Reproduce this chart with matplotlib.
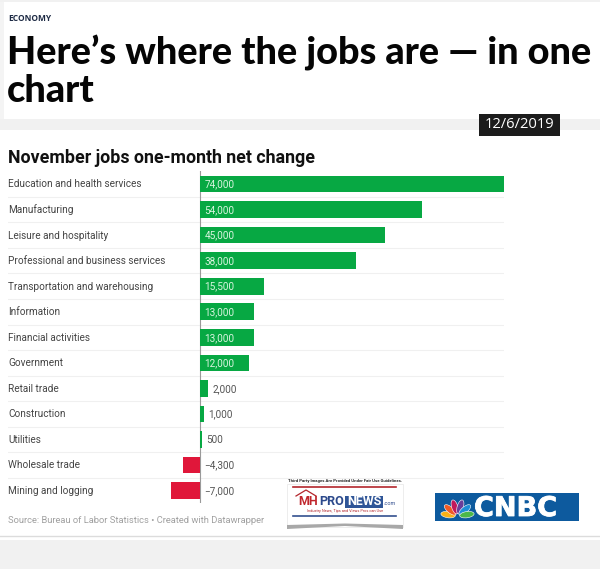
import math
import matplotlib
matplotlib.use("Agg")
import matplotlib.pyplot as plt
import matplotlib.patheffects as pe
from matplotlib.patches import Rectangle, Ellipse, Polygon

categories = ["Education and health services", "Manufacturing", "Leisure and hospitality",
              "Professional and business services", "Transportation and warehousing",
              "Information", "Financial activities", "Government", "Retail trade",
              "Construction", "Utilities", "Wholesale trade", "Mining and logging"]
values = [74000, 54000, 45000, 38000, 15500, 13000, 13000, 12000, 2000, 1000, 500, -4300, -7000]
value_labels = ["74,000", "54,000", "45,000", "38,000", "15,500", "13,000", "13,000", "12,000",
                "2,000", "1,000", "500", "\u22124,300", "\u22127,000"]

GREEN = "#07a843"; RED = "#e0173a"; W, H = 600, 569
fig = plt.figure(figsize=(W/100, H/100), dpi=100, facecolor="white")

# page furniture, in pixel coordinates
bg = fig.add_axes([0, 0, 1, 1], zorder=0)
bg.set_xlim(0, W); bg.set_ylim(H, 0); bg.axis("off")
bg.add_patch(Rectangle((0, 119), W, 11, fc="#f1f1f1", ec="none"))
bg.add_patch(Rectangle((0, 0), 4, 119, fc="#f4f4f4", ec="none"))
bg.add_patch(Rectangle((0, 0), W, 1.5, fc="#f1f1f1", ec="none"))
bg.add_patch(Rectangle((0, 540), W, 29, fc="#f1f1f1", ec="none"))
bg.plot([0, W], [536, 536], color="#dcdcdc", lw=1)
bg.text(8, 18.5, "ECONOMY", fontsize=6, family="Open Sans", weight="bold", color="#1d2a44", va="center", ha="left")
bg.text(7, 64, "Here\u2019s where the jobs are \u2014 in one", fontsize=27.3, family="Lato", weight="black", color="#050505", va="baseline")
bg.text(7, 101.5, "chart", fontsize=27.3, family="Lato", weight="black", color="#050505", va="baseline")
bg.add_patch(Rectangle((479, 114), 81, 22, fc="#1c1c1c", ec="none"))
bg.text(519, 124.5, "12/6/2019", fontsize=10.6, family="Open Sans", color="white", ha="center", va="center")
bg.text(8, 158, "November jobs one-month net change", fontsize=12.8, family="Roboto", weight="bold", color="#111111", va="center")
bg.text(8, 520.5, "Source: Bureau of Labor Statistics \u2022 Created with Datawrapper", fontsize=6.75, family="Roboto", color="#a0a0a0", va="center")

# chart
zero_px = 200.2
x_per_px = 74000 / (504 - zero_px)
left, right = 8, 504
row0, step = 184, 25.55
top, bottom = row0 - step/2, row0 + 12.5*step
ax = fig.add_axes([left/W, 1 - bottom/H, (right-left)/W, (bottom-top)/H], zorder=1)
ax.patch.set_alpha(0)
ax.set_xlim((left-zero_px)*x_per_px, (right-zero_px)*x_per_px)
ax.set_ylim(len(values)-0.5, -0.5)
ax.axis("off")
for i, (c, v, lab) in enumerate(zip(categories, values, value_labels)):
    ax.barh(i, v, height=0.65, color=GREEN if v >= 0 else RED, zorder=3)
    ax.annotate(c, (0, i), xycoords=("axes fraction", "data"), xytext=(0, -0.3), textcoords="offset points",
                fontsize=7.2, family="Roboto", color="#444444", va="center", ha="left")
    if v >= 10000:
        ax.annotate(lab, (0, i), xytext=(3, -0.3), textcoords="offset points", fontsize=7.2, family="Roboto", color="#d8f5df", va="center", zorder=4)
    else:
        ax.annotate(lab, (max(v, 0), i), xytext=(3, -0.3), textcoords="offset points", fontsize=7.2, family="Roboto", color="#555555", va="center", zorder=4)
    if i < len(values)-1:
        ax.axhline(i+0.5, color="#f0f0f0", lw=0.8, zorder=1)
ax.axvline(0, color="#9a9a9a", lw=0.8, zorder=2)

# MHProNews logo
bg.text(345, 481, "Third Party Images Are Provided Under Fair Use Guidelines.", fontsize=3.1, weight="bold", family="Roboto", ha="center", va="center", color="#222222")
bg.add_patch(Polygon([(287, 484), (403, 484), (403, 527), (287, 527)], fc="white", ec="#e6e6e6", lw=0.5))
bg.add_patch(Polygon([(287, 525), (345, 523.5), (403, 525), (403, 529), (345, 526), (287, 529)], fc="#a8a8a8", ec="none", zorder=3))
bg.plot([293, 396], [487, 487], color="#b3262c", lw=1.2)
bg.plot([293, 396], [516, 516], color="#34508f", lw=1.2)
bg.plot([296, 306, 316], [496, 490, 496], color="#b3262c", lw=0.9)
bg.text(298, 501.5, "MH", fontsize=9, weight="bold", family="Roboto", color="#c0272d", va="center")
bg.text(319, 501.5, "PRO", fontsize=9, weight="bold", family="Roboto", color="#2d4a8c", va="center")
bg.add_patch(Rectangle((345, 495.5), 38, 12, fc="#2f5597", ec="none"))
bg.text(364, 501.5, "NEWS", fontsize=9, weight="bold", family="Roboto", color="white", va="center", ha="center")
bg.text(384, 503, ".com", fontsize=4, family="Roboto", color="#2d4a8c", va="center")
bg.text(345, 511, "Industry News, Tips and Views Pros can Use", fontsize=2.8, family="Roboto", color="#b3262c", ha="center", va="center")

# CNBC logo
bg.add_patch(Rectangle((435, 493), 144, 28, fc="#0d5a9e", ec="none"))
for ang, col in zip([188, 220, 253, 287, 320, 352],
                    ["#f9b116", "#f05a24", "#c2185b", "#6a3d9a", "#1f8fd6", "#4cb848"]):
    cx = 457.5 + 9.5*math.cos(math.radians(ang)); cy = 516 + 9.5*math.sin(math.radians(ang))
    bg.add_patch(Ellipse((cx, cy), 14.5, 6.2, angle=ang, fc=col, ec="white", lw=0.4, zorder=3))
t = bg.text(474, 509, "CNBC", fontsize=19.5, family="DejaVu Sans", weight="bold", color="white", va="center", ha="left")
t.set_path_effects([pe.withStroke(linewidth=0.6, foreground="white")])

fig.savefig("out.png", dpi=100, facecolor="white")
